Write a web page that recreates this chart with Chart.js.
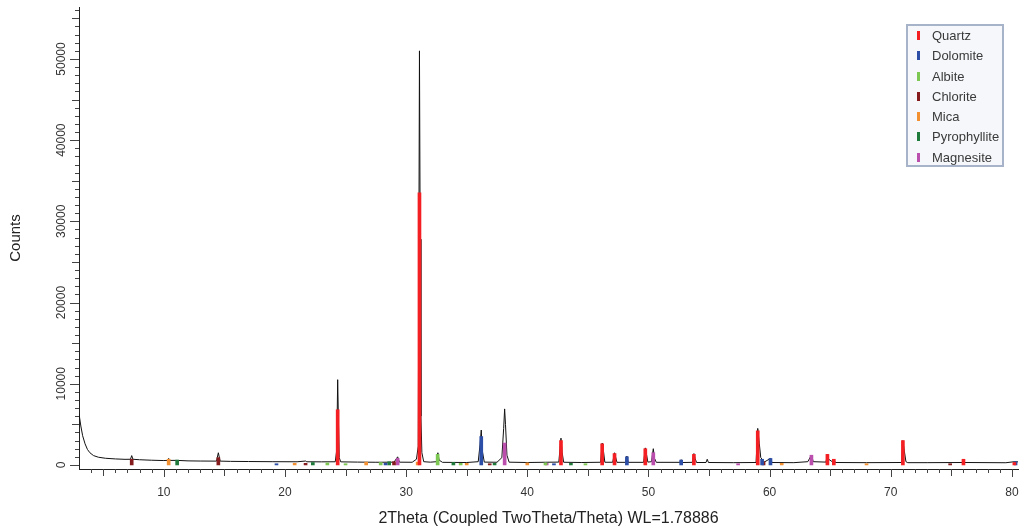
<!DOCTYPE html>
<html>
<head>
<meta charset="utf-8">
<script src="https://cdn.jsdelivr.net/npm/chart.js@4.4.1/dist/chart.umd.min.js"></script>
<style>
  html, body { margin: 0; padding: 0; background: #fff; }
  #wrap { position: relative; width: 1026px; height: 531px; }
  #legend {
    position: absolute; left: 906px; top: 24px; width: 94px; height: 139px;
    border: 2px solid #a6b3c9; background: #f5f7fa;
    font: 13px "Liberation Sans", Arial, sans-serif; color: #3a3a3a;
  }
  #legend .row { position: relative; height: 20.3px; line-height: 20px; padding-left: 24px; }
  #legend .mark { position: absolute; left: 9px; top: 5px; width: 3px; height: 9px; }
</style>
</head>
<body>
<div id="wrap">
  <canvas id="xrdChart" width="1026" height="531"></canvas>
  <div id="legend"></div>
</div>
<script>
// measured pattern (2theta, counts)
const twoTheta = [3.0, 3.15, 3.3, 3.5, 3.7, 3.9, 4.2, 4.6, 5.2, 6.0, 6.8, 7.25, 7.35, 7.45, 8.0, 9.0, 10.0, 10.3, 10.4, 10.5,
  11.1, 12.0, 13.0, 14.35, 14.5, 14.65, 15.5, 17.0, 19.0, 21.0, 21.7, 21.8, 23.0, 24.15, 24.27, 24.35, 24.41, 24.48, 24.6,
  26.0, 27.5, 29.0, 29.3, 29.45, 30.5, 30.85, 31.0, 31.1, 31.16, 31.22, 31.3, 31.45, 32.0, 32.5, 32.62, 32.72, 33.0,
  35.0, 35.95, 36.1, 36.2, 36.28, 36.45, 37.5, 37.9, 38.05, 38.13, 38.2, 38.32, 38.5, 40.0, 41.5, 42.6, 42.78, 42.87, 43.0,
  44.5, 46.05, 46.18, 46.28, 46.4, 47.05, 47.2, 47.3, 47.4, 48.12, 48.22, 48.32, 49.6, 49.74, 49.84, 49.95, 50.25, 50.4,
  50.5, 50.65, 52.6, 52.7, 52.8, 53.62, 53.75, 53.85, 53.97, 54.75, 54.85, 54.95, 57.0, 58.88, 59.02, 59.15, 59.27, 59.38,
  59.5, 60.07, 60.2, 62.0, 63.15, 63.45, 63.6, 64.65, 64.77, 64.87, 65.22, 65.3, 65.42, 68.0, 70.9, 71.0, 71.12, 71.25,
  71.4, 73.0, 75.9, 76.0, 76.1, 79.5, 80.2, 80.5];
const counts = [6300, 4800, 3600, 2600, 1900, 1500, 1150, 950, 820, 740, 690, 700, 1150, 700, 640, 580, 540, 560, 800, 560,
  560, 500, 480, 470, 1500, 470, 440, 420, 400, 390, 480, 390, 380, 390, 1800, 10500, 5600, 900, 380,
  350, 330, 340, 1000, 340, 330, 700, 2300, 51000, 27800, 6000, 1500, 400, 340, 400, 1500, 600, 320,
  300, 400, 2500, 4300, 1800, 350, 330, 900, 4500, 6900, 5000, 1200, 340, 300, 330, 350, 3300, 1600, 330,
  300, 330, 2700, 1800, 330, 330, 1500, 900, 320, 320, 1100, 320, 320, 2100, 1300, 350, 400, 2000,
  800, 320, 320, 650, 300, 320, 1400, 800, 300, 300, 700, 300, 280, 300, 4500, 2600, 900, 700,
  300, 800, 300, 280, 400, 1200, 400, 350, 1300, 700, 350, 700, 300, 280, 300, 3000, 1700, 400,
  280, 280, 300, 700, 300, 270, 400, 380];

// reference sticks per phase
const phases = ['Quartz', 'Dolomite', 'Albite', 'Chlorite', 'Mica', 'Pyrophyllite', 'Magnesite'];
const quartzPos = [24.35, 31.1, 42.78, 46.18, 47.2, 49.74, 53.75, 59.02, 64.77, 65.3, 71.0, 76.0, 80.2];
const quartzInt = [6800, 33500, 3000, 2600, 1400, 2000, 1300, 4200, 1300, 700, 3000, 700, 300];
const dolomitePos = [19.3, 28.3, 36.2, 42.2, 48.22, 52.7, 59.38, 60.07, 80.3];
const dolomiteInt = [150, 200, 3500, 150, 1000, 600, 700, 800, 400];
const albitePos = [23.5, 25.0, 27.9, 32.6, 34.5, 41.5, 44.8];
const albiteInt = [250, 150, 300, 1300, 200, 250, 150];
const chloritePos = [7.35, 14.5, 21.7, 29.0, 36.9, 59.5, 74.9];
const chloriteInt = [700, 900, 200, 400, 150, 400, 150];
const micaPos = [10.4, 20.8, 26.7, 30.95, 35.0, 40.0, 61.0, 68.0];
const micaInt = [700, 200, 350, 350, 200, 250, 200, 150];
const pyrophyllitePos = [11.1, 22.3, 28.6, 33.9, 37.3, 43.6];
const pyrophylliteInt = [600, 300, 400, 300, 200, 200];
const magnesitePos = [29.3, 38.13, 41.6, 50.4, 57.4, 63.45];
const magnesiteInt = [800, 2700, 200, 1500, 150, 1200];

const stickPos = [quartzPos, dolomitePos, albitePos, chloritePos, micaPos, pyrophyllitePos, magnesitePos];
const stickInt = [quartzInt, dolomiteInt, albiteInt, chloriteInt, micaInt, pyrophylliteInt, magnesiteInt];
const phaseColors = ['#f41f23', '#2d4ea6', '#7cc852', '#861b1d', '#f39132', '#1f7b3b', '#bb4fae'];

const xTickLabels = [10, 20, 30, 40, 50, 60, 70, 80];
const yTickLabels = [0, 10000, 20000, 30000, 40000, 50000];

const FONT = '"Liberation Sans", Arial, sans-serif';

// tick marks + rotated y labels
const axisTicks = {
  id: 'axisTicks',
  afterDraw(chart) {
    const { ctx, scales: { x, y } } = chart;
    const left = chart.chartArea.left, bottom = chart.chartArea.bottom;
    ctx.save();
    ctx.strokeStyle = '#444';
    ctx.lineWidth = 1;
    ctx.beginPath();
    for (let v = 4; v <= 80; v++) {
      const px = Math.round(x.getPixelForValue(v)) + 0.5;
      const len = v % 10 === 0 ? 8 : (v % 5 === 0 ? 7 : 4);
      ctx.moveTo(px, bottom);
      ctx.lineTo(px, bottom + len);
    }
    for (let v = 0; v <= 56000; v += 1000) {
      const py = Math.round(y.getPixelForValue(v)) + 0.5;
      const len = v % 10000 === 0 ? 9 : (v % 5000 === 0 ? 7 : 4);
      ctx.moveTo(left, py);
      ctx.lineTo(left - len, py);
    }
    ctx.stroke();

    ctx.fillStyle = '#333';
    ctx.font = '12px ' + FONT;
    ctx.textAlign = 'center';
    ctx.textBaseline = 'middle';
    yTickLabels.forEach(v => {
      ctx.save();
      ctx.translate(left - 17, y.getPixelForValue(v));
      ctx.rotate(-Math.PI / 2);
      ctx.fillText(String(v), 0, 0);
      ctx.restore();
    });
    ctx.restore();
  }
};

const datasets = [{
  type: 'line',
  label: 'Pattern',
  data: twoTheta.map((t, i) => ({ x: t, y: counts[i] })),
  borderColor: '#111',
  borderWidth: 1,
  pointRadius: 0,
  tension: 0,
  order: 10
}];
phases.forEach((name, i) => {
  datasets.push({
    type: 'bar',
    label: name,
    data: stickPos[i].map((p, k) => ({ x: p, y: stickInt[i][k] })),
    backgroundColor: phaseColors[i],
    barThickness: 3,
    grouped: false,
    order: 1
  });
});

new Chart(document.getElementById('xrdChart'), {
  type: 'bar',
  data: { datasets: datasets },
  options: {
    responsive: false,
    animation: false,
    layout: { padding: { top: 7, right: 8, left: 0, bottom: 0 } },
    plugins: { legend: { display: false }, tooltip: { enabled: false } },
    scales: {
      x: {
        type: 'linear',
        min: 3,
        max: 80.5,
        offset: false,
        grid: { display: false, drawTicks: false, offset: false },
        border: { display: true, color: '#222', width: 1 },
        afterBuildTicks: s => { s.ticks = xTickLabels.map(v => ({ value: v })); },
        afterFit: s => { s.height = 62; s.paddingRight = 0; s.paddingLeft = 0; },
        ticks: { color: '#333', padding: 16, font: { size: 12, family: FONT }, maxRotation: 0, autoSkip: false },
        title: {
          display: true,
          text: '2Theta (Coupled TwoTheta/Theta) WL=1.78886',
          color: '#222',
          font: { size: 16, family: FONT },
          padding: { top: 0, bottom: 3 }
        }
      },
      y: {
        type: 'linear',
        min: -500,
        max: 56400,
        grid: { display: false, drawTicks: false },
        border: { display: true, color: '#222', width: 1 },
        ticks: { display: false },
        afterFit: s => { s.width = 79; },
        title: {
          display: true,
          text: 'Counts',
          color: '#222',
          font: { size: 15, family: FONT },
          padding: { top: 7, bottom: 0 }
        }
      }
    }
  },
  plugins: [axisTicks]
});

// legend box
const legend = document.getElementById('legend');
phases.forEach((name, i) => {
  const row = document.createElement('div');
  row.className = 'row';
  row.innerHTML = '<span class="mark" style="background:' + phaseColors[i] + '"></span>' + name;
  legend.appendChild(row);
});
</script>
</body>
</html>
